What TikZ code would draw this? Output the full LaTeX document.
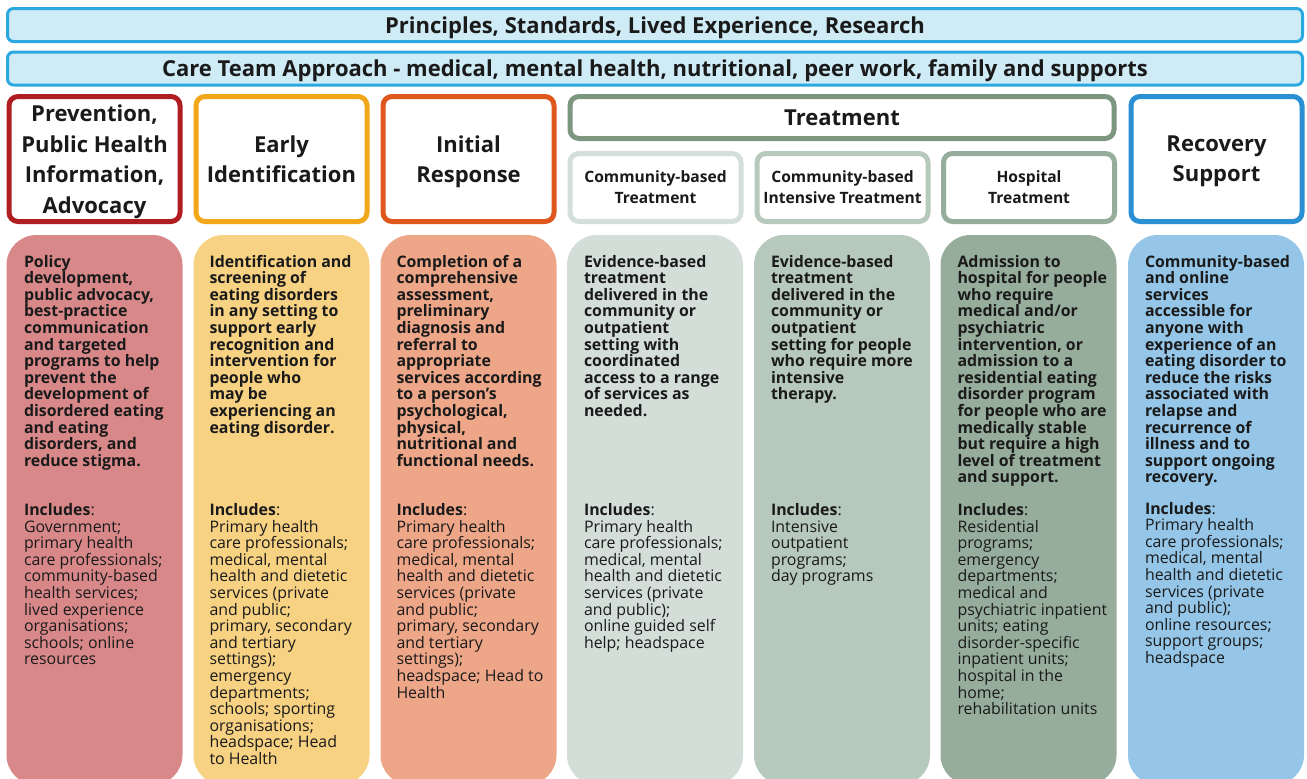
\documentclass[tikz,border=0pt]{standalone}
\usepackage{fontspec}
\setmainfont{Open Sans}
\definecolor{txt}{HTML}{1A1A1A}
\definecolor{barfill}{HTML}{CFEBF6}
\definecolor{barline}{HTML}{2AA8E0}
\definecolor{bPrev}{HTML}{B01E22}
\definecolor{bEarly}{HTML}{F2A71B}
\definecolor{bInit}{HTML}{E0571D}
\definecolor{bTreat}{HTML}{7C9680}
\definecolor{bComm}{HTML}{D5DFD9}
\definecolor{bInt}{HTML}{B7C8BD}
\definecolor{bHosp}{HTML}{97AD9C}
\definecolor{bRec}{HTML}{2A8FD3}
\definecolor{fPrev}{HTML}{D9888A}
\definecolor{fEarly}{HTML}{F8D283}
\definecolor{fInit}{HTML}{EEA688}
\definecolor{fComm}{HTML}{D3DED9}
\definecolor{fInt}{HTML}{B7C8BD}
\definecolor{fHosp}{HTML}{97AD9C}
\definecolor{fRec}{HTML}{95C6E8}
\newcommand\myBar{\bfseries\fontsize{22}{26}\selectfont}
\newcommand\myHead{\bfseries\fontsize{22}{30.5}\selectfont}
\newcommand\mySub{\bfseries\fontsize{15.6}{21}\selectfont}
\newcommand\myBody{\bfseries\fontsize{15.9}{16.6}\selectfont}
\newcommand\myInc{\fontsize{15.9}{16.6}\selectfont}
\tikzset{
  topbar/.style={draw=barline, fill=barfill, line width=3, rounded corners=6,
    minimum width=1295, minimum height=33, inner sep=0, font=\myBar, text=txt,
    text height=16.7, text depth=0},
  hdrbox/.style={draw, line width=5, rounded corners=9, fill=white,
    minimum width=171, minimum height=125, align=center, inner sep=0,
    font=\myHead, text=txt},
  subbox/.style={draw, line width=5, rounded corners=9, fill=white,
    minimum width=171, minimum height=68, align=center, inner sep=0,
    font=\mySub, text=txt},
  card/.style={rounded corners=30, minimum width=176, minimum height=550, inner sep=0},
  desc/.style={anchor=north west, align=left, inner sep=0, font=\myBody, text=txt},
  inc/.style={anchor=north west, align=left, inner sep=0, font=\myInc, text=txt},
}
\begin{document}
\begin{tikzpicture}[x=1pt,y=-1pt]
\useasboundingbox (0,0) rectangle (1307,779);
\clip (0,0) rectangle (1307,779);
\fill[white] (0,0) rectangle (1307,779);

\node[topbar] (bar1) at (655,25) {Principles, Standards, Lived Experience, Research};
\node[topbar] (bar2) at (655,68.5) {Care Team Approach - medical, mental health, nutritional, peer work, family and supports};

\node[hdrbox, draw=bPrev] (h1) at (94.5,159) {Prevention,\\Public Health\\Information,\\Advoca\smash{cy}};
\node[hdrbox, draw=bEarly] (h2) at (281.5,159) {Early\\Identification};
\node[hdrbox, draw=bInit] (h3) at (468.5,159) {Initial\\Res\smash{p}onse};
\node[hdrbox, draw=bTreat, minimum width=544, minimum height=42] (h4) at (842,117.5) {Treatment};
\node[subbox, draw=bComm] (s1) at (655.5,187.5) {Community-based\\Treatment};
\node[subbox, draw=bInt] (s2) at (842.5,187.5) {Community-based\\Intensive Treatment};
\node[subbox, draw=bHosp] (s3) at (1029,187.5) {Hospital\\Treatment};
\node[hdrbox, draw=bRec] (h5) at (1216.5,159) {Recovery\\Su\smash{pp}ort};

\node[card, fill=fPrev] (k1) at (94.5,510) {};
\node[card, fill=fEarly] (k2) at (281.5,510) {};
\node[card, fill=fInit] (k3) at (468.5,510) {};
\node[card, fill=fComm] (k4) at (655,510) {};
\node[card, fill=fInt] (k5) at (842,510) {};
\node[card, fill=fHosp] (k6) at (1028.5,510) {};
\node[card, fill=fRec] (k7) at (1216,510) {};

\node[desc] (d1) at ([shift={(17.5,20)}]k1.north west) {Policy\\development,\\public advocacy,\\best-practice\\communication\\and targeted\\programs to help\\prevent the\\development of\\disordered eating\\and eating\\disorders, and\\reduce stigma.};
\node[desc] (d2) at ([shift={(16,20)}]k2.north west) {Identification and\\screening of\\eating disorders\\in any setting to\\support early\\recognition and\\intervention for\\people who\\may be\\experiencing an\\eating disorder.};
\node[desc] (d3) at ([shift={(16,20)}]k3.north west) {Completion of a\\comprehensive\\assessment,\\preliminary\\diagnosis and\\referral to\\appropriate\\services according\\to a person’s\\psychological,\\physical,\\nutritional and\\functional needs.};
\node[desc] (d4) at ([shift={(17,20)}]k4.north west) {Evidence-based\\treatment\\delivered in the\\community or\\outpatient\\setting with\\coordinated\\access to a range\\of services as\\needed.};
\node[desc] (d5) at ([shift={(17,20)}]k5.north west) {Evidence-based\\treatment\\delivered in the\\community or\\outpatient\\setting for people\\who require more\\intensive\\therapy.};
\node[desc] (d6) at ([shift={(17,20)}]k6.north west) {Admission to\\hospital for people\\who require\\medical and/or\\psychiatric\\intervention, or\\admission to a\\residential eating\\disorder program\\for people who are\\medically stable\\but require a high\\level of treatment\\and support.};
\node[desc] (d7) at ([shift={(17,20)}]k7.north west) {Community-based\\and online\\services\\accessible for\\anyone with\\experience of an\\eating disorder to\\reduce the risks\\associated with\\relapse and\\recurrence of\\illness and to\\support ongoing\\recovery.};

\node[inc] (i1) at ([shift={(17.5,268.5)}]k1.north west) {\textbf{Includes}:\\Government;\\primary health\\care professionals;\\community-based\\health services;\\lived experience\\organisations;\\schools; online\\resources};
\node[inc] (i2) at ([shift={(16,268.5)}]k2.north west) {\textbf{Includes}:\\Primary health\\care professionals;\\medical, mental\\health and dietetic\\services (private\\and public;\\primary, secondary\\and tertiary\\settings);\\emergency\\departments;\\schools; sporting\\organisations;\\headspace; Head\\to Health};
\node[inc] (i3) at ([shift={(16,268.5)}]k3.north west) {\textbf{Includes}:\\Primary health\\care professionals;\\medical, mental\\health and dietetic\\services (private\\and public;\\primary, secondary\\and tertiary\\settings);\\headspace; Head to\\Health};
\node[inc] (i4) at ([shift={(17,268.5)}]k4.north west) {\textbf{Includes}:\\Primary health\\care professionals;\\medical, mental\\health and dietetic\\services (private\\and public);\\online guided self\\help; headspace};
\node[inc] (i5) at ([shift={(17,268.5)}]k5.north west) {\textbf{Includes}:\\Intensive\\outpatient\\programs;\\day programs};
\node[inc] (i6) at ([shift={(17,268.5)}]k6.north west) {\textbf{Includes}:\\Residential\\programs;\\emergency\\departments;\\medical and\\psychiatric inpatient\\units; eating\\disorder-specific\\inpatient units;\\hospital in the\\home;\\rehabilitation units};
\node[inc] (i7) at ([shift={(17,267)}]k7.north west) {\textbf{Includes}:\\Primary health\\care professionals;\\medical, mental\\health and dietetic\\services (private\\and public);\\online resources;\\support groups;\\headspace};
\end{tikzpicture}
\end{document}
